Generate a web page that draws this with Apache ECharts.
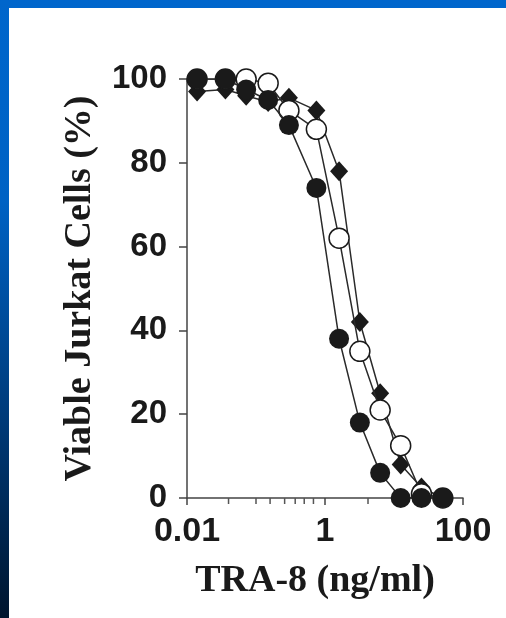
<!DOCTYPE html>
<html>
<head>
<meta charset="utf-8">
<script src="https://cdn.jsdelivr.net/npm/echarts@6/dist/echarts.min.js"></script>
<style>
  html, body { margin: 0; padding: 0; }
  body {
    width: 506px; height: 618px; overflow: hidden;
    background: linear-gradient(to bottom, #0066cc 0px, #0062c4 200px, #003a78 420px, #00152e 618px);
    position: relative;
  }
  #panel {
    position: absolute; left: 9px; top: 8px; right: 0; bottom: 0;
    background: #ffffff;
  }
  #chart { position: absolute; left: -9px; top: -8px; width: 506px; height: 618px; }
</style>
</head>
<body>
<div id="panel"><div id="chart"></div></div>
<script>
// TRA-8 dose (ng/ml)
var dose = [0.014, 0.036, 0.072, 0.15, 0.3, 0.75, 1.6, 3.2, 6.3, 12.5, 25, 51];

// viable cells (%) per marker type
var filledCircle = [100, 100, 97.5, 95, 89, 74, 38, 18, 6, 0, 0, 0];
var openCircle   = [100, 100, 100, 99, 92.5, 88, 62, 35, 21, 12.5, 1, 0];
var diamond      = [97, 97.5, 96, 94.5, 95.5, 92.5, 78, 42, 25, 8, 2.5, 0];

// small ticks seen along the x axis
var minorTicks = [0.04, 0.1, 0.16, 0.26, 0.37, 0.5, 0.68, 4.2];

var yTicks = [0, 20, 40, 60, 80, 100];

function pairs(ys) {
  return dose.map(function (d, i) { return [d, ys[i]]; });
}

var ink = '#1a1a1a';
var lineStyle = { color: '#2a2a2a', width: 1.5 };

var chart = echarts.init(document.getElementById('chart'), null, { renderer: 'canvas' });
chart.setOption({
  backgroundColor: 'transparent',
  animation: false,
  grid: { left: 187, right: 43, top: 79, bottom: 120 },
  xAxis: {
    type: 'log',
    logBase: 100,
    min: 0.01,
    max: 100,
    name: 'TRA-8 (ng/ml)',
    nameLocation: 'middle',
    nameGap: 64,
    nameTextStyle: {
      fontFamily: 'Liberation Serif', fontWeight: 'bold', fontSize: 38, color: ink,
      padding: [0, 20, 0, 0]
    },
    axisLine: { lineStyle: { color: '#444', width: 1.5 } },
    axisTick: { inside: false, length: 7, lineStyle: { color: '#444', width: 1.5 } },
    axisLabel: {
      margin: 17,
      fontFamily: 'Liberation Sans', fontWeight: 'bold', fontSize: 34, color: ink,
      formatter: function (v) { return String(v); }
    },
    splitLine: { show: false }
  },
  yAxis: {
    type: 'value',
    min: 0,
    max: 100,
    interval: 20,
    name: 'Viable Jurkat Cells (%)',
    nameLocation: 'middle',
    nameGap: 88,
    nameTextStyle: { fontFamily: 'Liberation Serif', fontWeight: 'bold', fontSize: 38, color: ink },
    axisLine: { show: true, lineStyle: { color: '#444', width: 1.5 } },
    axisTick: { show: true, length: 8, lineStyle: { color: '#444', width: 1.5 } },
    axisLabel: {
      margin: 20,
      fontFamily: 'Liberation Sans', fontWeight: 'bold', fontSize: 33, color: ink,
      formatter: function (v) { return yTicks.indexOf(v) >= 0 ? String(v) : ''; }
    },
    splitLine: { show: false }
  },
  series: [
    {
      type: 'custom',
      silent: true,
      clip: false,
      z: 1,
      data: minorTicks.map(function (v) { return [v, 0]; }),
      renderItem: function (params, api) {
        var p = api.coord([api.value(0), 0]);
        return {
          type: 'line',
          shape: { x1: p[0], y1: p[1], x2: p[0], y2: p[1] + 6 },
          style: { stroke: '#555', lineWidth: 1.5 }
        };
      }
    },
    {
      name: 'diamond',
      type: 'line',
      data: pairs(diamond),
      symbol: 'diamond',
      symbolSize: [18, 20],
      lineStyle: lineStyle,
      itemStyle: { color: ink, borderColor: ink, borderWidth: 0 },
      z: 2
    },
    {
      name: 'open circle',
      type: 'line',
      data: pairs(openCircle),
      symbol: 'circle',
      symbolSize: 20,
      lineStyle: lineStyle,
      itemStyle: { color: '#ffffff', borderColor: ink, borderWidth: 1.5 },
      z: 3
    },
    {
      name: 'filled circle',
      type: 'line',
      data: pairs(filledCircle),
      symbol: 'circle',
      symbolSize: 20,
      lineStyle: lineStyle,
      itemStyle: { color: ink, borderColor: ink, borderWidth: 0 },
      z: 4
    }
  ]
});
</script>
</body>
</html>
